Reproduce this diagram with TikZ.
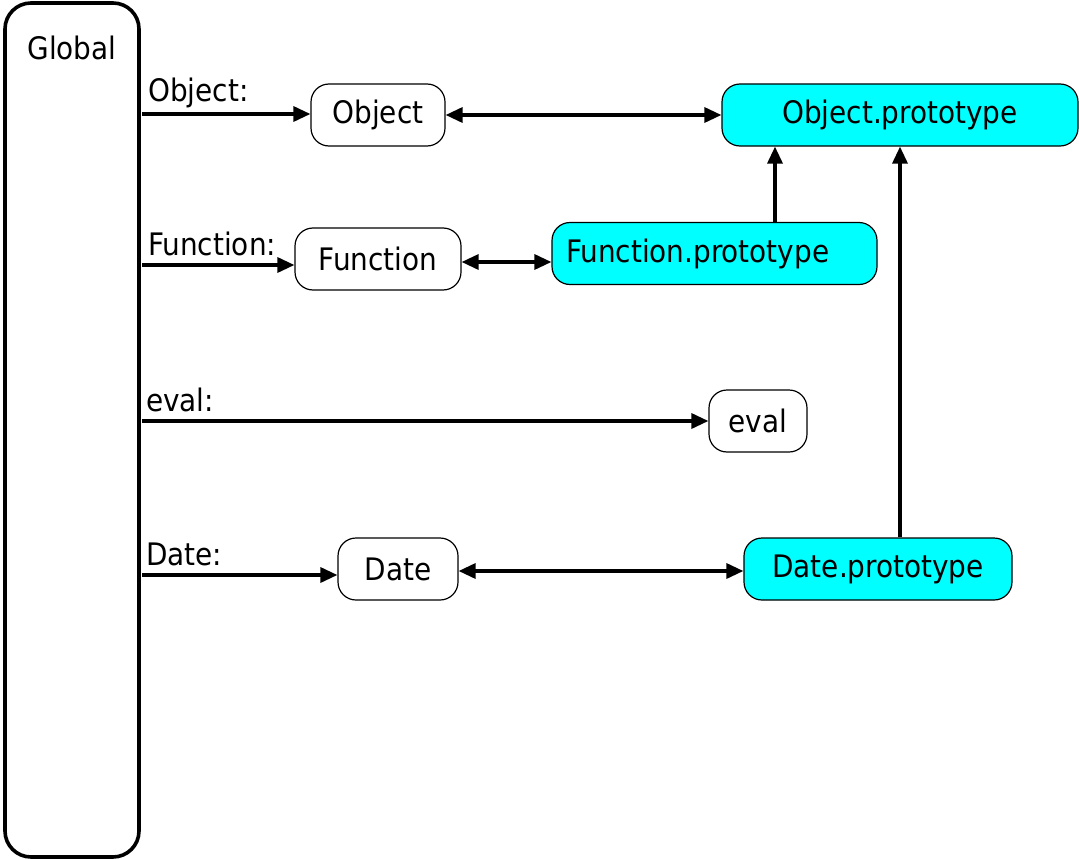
\documentclass[tikz,border=0pt]{standalone}
\usepackage{fontspec}
\setmainfont{DejaVu Sans Condensed}
\usetikzlibrary{arrows.meta}
\definecolor{protocyan}{HTML}{00FFFF}
\tikzset{
  obj/.style={draw=black, line width=1.2pt, rounded corners=18pt, fill=white,
    inner sep=0pt, minimum height=62pt, font=\fontsize{31}{37}\selectfont},
  proto/.style={obj, fill=protocyan},
  lbl/.style={anchor=base west, inner sep=0pt, font=\fontsize{31}{37}\selectfont},
  link/.style={line width=3.3pt, -{Triangle[length=17pt,width=15pt]}},
  both/.style={line width=3.3pt, {Triangle[length=17pt,width=15pt]}-{Triangle[length=17pt,width=15pt]}}
}
\begin{document}
\begin{tikzpicture}[x=1pt,y=-1pt]
\useasboundingbox (0,0) rectangle (1079,859);

% global object column
\draw[line width=3.6pt, rounded corners=26pt] (5,3) rectangle (139,857);
\node[lbl, anchor=center] (global) at (72,48) {Global};

% objects and prototypes
\node[obj, minimum width=134pt] (object) at (378,115) {Object};
\node[proto, minimum width=356pt] (objproto) at (900,115) {Object.prototype};
\node[obj, minimum width=166pt] (function) at (378,259) {Function};
\node[proto, minimum width=325pt, text width=297pt, align=left] (funcproto) at (714.5,253.5) {Function.prototype};
\node[obj, minimum width=98pt] (eval) at (758,421) {eval};
\node[obj, minimum width=120pt] (date) at (398,569) {Date};
\node[proto, minimum width=268pt] (dateproto) at (878,569) {Date.prototype};

% property references from the global object
\coordinate (gobj) at (142,114);
\coordinate (gfun) at (142,265);
\coordinate (geval) at (142,421);
\coordinate (gdate) at (142,575);
\node[lbl] at (148,102) {Object:};
\node[lbl] at (148,255) {Function:};
\node[lbl] at (146,411) {eval:};
\node[lbl] at (146,565) {Date:};

\draw[link] (gobj) -- (gobj -| object.west);
\draw[link] (gfun) -- (gfun -| function.west);
\draw[link] (geval) -- (geval -| eval.west);
\draw[link] (gdate) -- (gdate -| date.west);

% constructor <-> prototype
\draw[both] (object.east) -- (objproto.west);
\draw[both] (function.east |- 0,262) -- (funcproto.west |- 0,262);
\draw[both] (date.east |- 0,571) -- (dateproto.west |- 0,571);

% prototype chain
\draw[link] (funcproto.north -| 775,0) -- (objproto.south -| 775,0);
\draw[link] (dateproto.north -| 900,0) -- (objproto.south -| 900,0);
\end{tikzpicture}
\end{document}
